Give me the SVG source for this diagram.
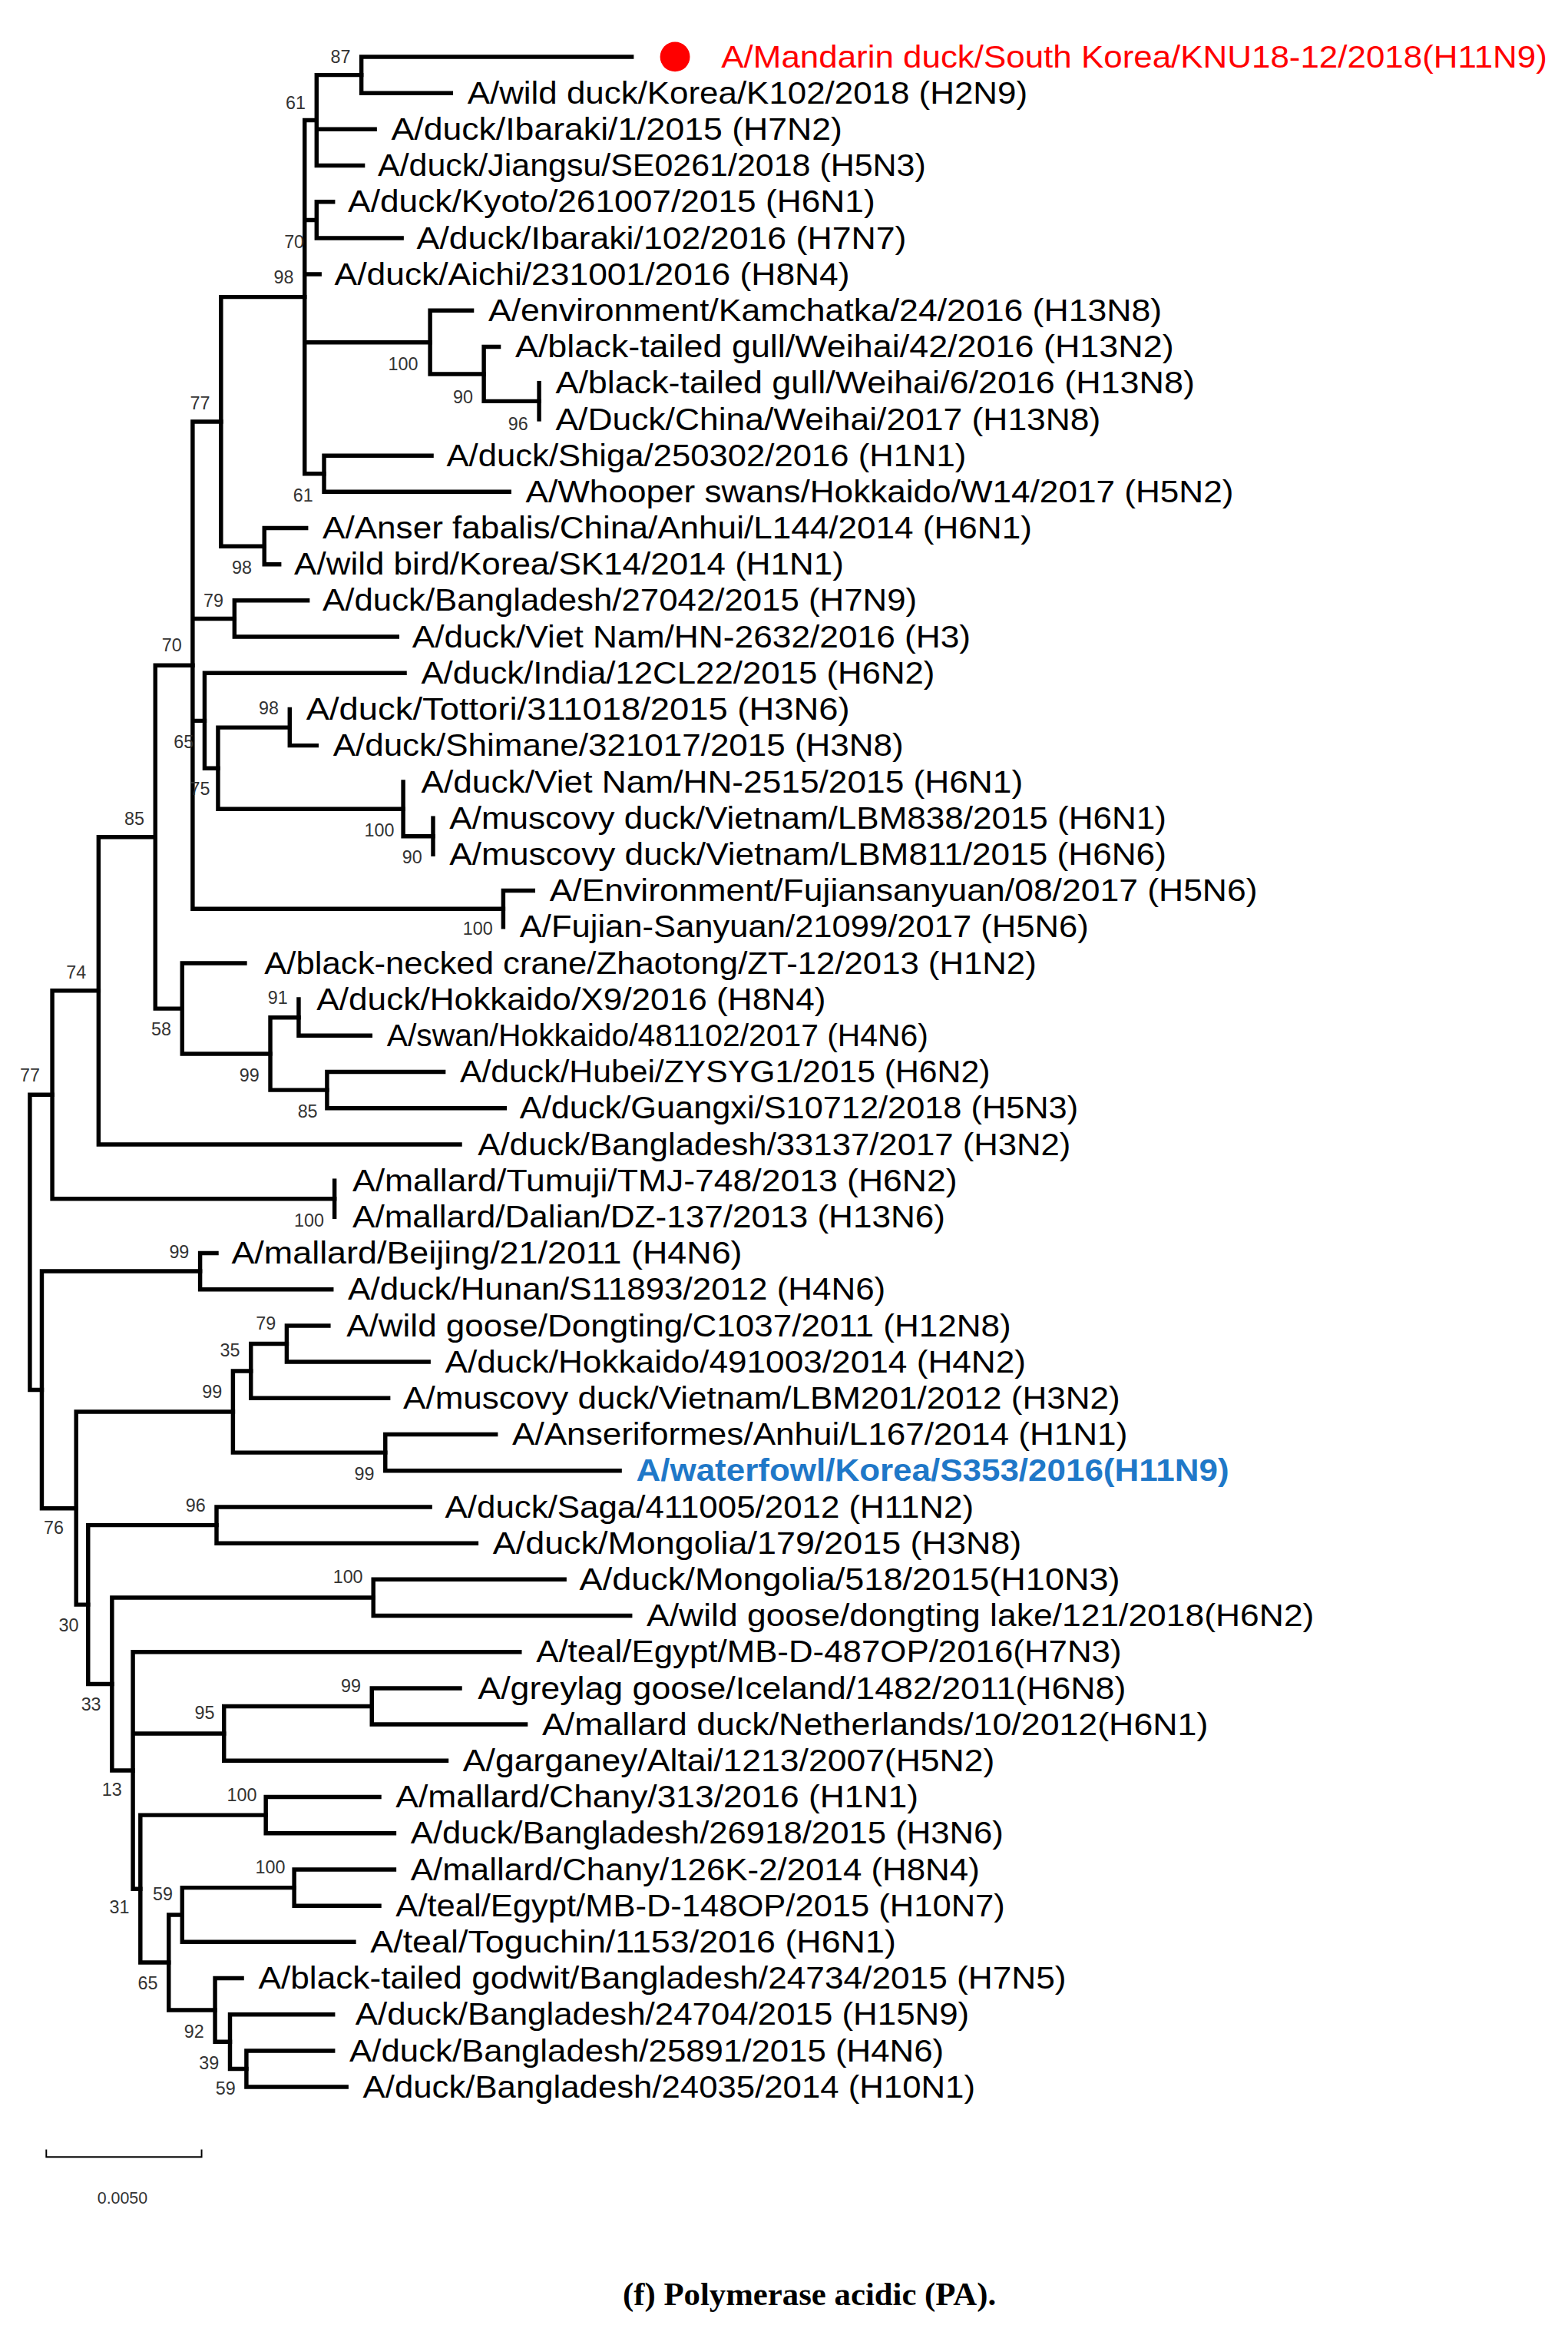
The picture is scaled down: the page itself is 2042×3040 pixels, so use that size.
<svg xmlns="http://www.w3.org/2000/svg" width="2042" height="3040" viewBox="0 0 2042 3040">
<style>
.e{fill:none;stroke:#000;stroke-width:2.8;stroke-linecap:square}
.t{font-family:"Liberation Sans",Arial,sans-serif;font-size:21px;fill:#000}
.b{font-family:"Liberation Sans",Arial,sans-serif;font-size:12px;fill:#333;text-anchor:middle}
</style>
<rect width="2042" height="3040" fill="#fff"/>
<g transform="scale(1.9448)">
<g id="connectors" class="e">
<path d="M242,38V62.3M242,38H423M242,62.3H302"/>
<path d="M212,50.2V110.8M212,50.2H242M212,86.5H251M212,110.8H243"/>
<path d="M212,135.1V159.4M212,135.1H223M212,159.4H269"/>
<path d="M361,256.4V280.7"/>
<path d="M324,232.2V268.6M324,232.2H334M324,268.6H361"/>
<path d="M288,207.9V250.4M288,207.9H316M288,250.4H324"/>
<path d="M217,305V329.2M217,305H289M217,329.2H341"/>
<path d="M204,80.5V317.1M204,80.5H212M204,147.3H212M204,183.6H214M204,229.2H288M204,317.1H217"/>
<path d="M177,353.5V377.8M177,353.5H205M177,377.8H187"/>
<path d="M148,198.8V365.7M148,198.8H204M148,365.7H177"/>
<path d="M157,402V426.3M157,402H206M157,426.3H266"/>
<path d="M194,474.9V499.1M194,499.1H212"/>
<path d="M290,547.7V571.9"/>
<path d="M270,523.4V559.8M270,559.8H290"/>
<path d="M146,487V541.6M146,487H194M146,541.6H270"/>
<path d="M137,450.6V514.3M137,450.6H271M137,514.3H146"/>
<path d="M337,596.2V620.5M337,596.2H357"/>
<path d="M129,282.3V608.4M129,282.3H148M129,414.2H157M129,482.5H137M129,608.4H337"/>
<path d="M200,669V693.3M200,693.3H248"/>
<path d="M219,717.6V741.8M219,717.6H297M219,741.8H338"/>
<path d="M181,681.2V729.7M181,681.2H200M181,729.7H219"/>
<path d="M122,644.8V705.5M122,644.8H164M122,705.5H181"/>
<path d="M104,445.4V675.2M104,445.4H129M104,675.2H122"/>
<path d="M66,560.3V766.1M66,560.3H104M66,766.1H308"/>
<path d="M224,790.4V814.6"/>
<path d="M35,663.2V802.5M35,663.2H66M35,802.5H224"/>
<path d="M134,838.9V863.2M134,838.9H145M134,863.2H222"/>
<path d="M192,887.5V911.7M192,887.5H220M192,911.7H287"/>
<path d="M168,899.6V936M168,899.6H192M168,936H260"/>
<path d="M258,960.3V984.5M258,960.3H332M258,984.5H415"/>
<path d="M156,917.8V972.4M156,917.8H168M156,972.4H258"/>
<path d="M145,1008.8V1033.1M145,1008.8H288M145,1033.1H319"/>
<path d="M250,1057.3V1081.6M250,1057.3H378M250,1081.6H422"/>
<path d="M249,1130.2V1154.4M249,1130.2H308M249,1154.4H352"/>
<path d="M150,1142.3V1178.7M150,1142.3H249M150,1178.7H299"/>
<path d="M178,1203V1227.2M178,1203H254M178,1227.2H264"/>
<path d="M197,1251.5V1275.8M197,1251.5H264M197,1275.8H254"/>
<path d="M122,1263.7V1300M122,1263.7H197M122,1300H237"/>
<path d="M165,1372.9V1397.1M165,1372.9H223M165,1397.1H232"/>
<path d="M154,1348.6V1385M154,1348.6H223M154,1385H165"/>
<path d="M144,1324.3V1366.8M144,1324.3H162M144,1366.8H154"/>
<path d="M113,1281.9V1345.6M113,1281.9H122M113,1345.6H144"/>
<path d="M94,1215.1V1313.8M94,1215.1H178M94,1313.8H113"/>
<path d="M89,1105.9V1264.5M89,1105.9H348M89,1160.5H150M89,1264.5H94"/>
<path d="M75,1069.5V1185.2M75,1069.5H250M75,1185.2H89"/>
<path d="M59,1021V1127.4M59,1021H145M59,1127.4H75"/>
<path d="M51,945.1V1074.2M51,945.1H156M51,1074.2H59"/>
<path d="M28,851V1009.7M28,851H134M28,1009.7H51"/>
<path d="M20,732.9V930.4M20,732.9H35M20,930.4H28"/>
</g>
<g id="bootstrap">
<text class="b" x="228" y="42">87</text><text class="b" x="198" y="73">61</text><text class="b" x="197" y="166">70</text><text class="b" x="190" y="190">98</text>
<text class="b" x="270" y="248">100</text><text class="b" x="310" y="270">90</text><text class="b" x="347" y="288">96</text><text class="b" x="203" y="336">61</text>
<text class="b" x="134" y="274">77</text><text class="b" x="162" y="384">98</text><text class="b" x="143" y="406">79</text><text class="b" x="115" y="436">70</text>
<text class="b" x="180" y="478">98</text><text class="b" x="123" y="501">65</text><text class="b" x="134" y="532">75</text><text class="b" x="254" y="560">100</text>
<text class="b" x="276" y="578">90</text><text class="b" x="320" y="626">100</text><text class="b" x="90" y="552">85</text><text class="b" x="186" y="672">91</text>
<text class="b" x="108" y="693">58</text><text class="b" x="167" y="724">99</text><text class="b" x="206" y="748">85</text><text class="b" x="51" y="655">74</text>
<text class="b" x="20" y="724">77</text><text class="b" x="207" y="821">100</text>
<text class="b" x="120" y="842">99</text><text class="b" x="178" y="890">79</text><text class="b" x="154" y="908">35</text><text class="b" x="142" y="936">99</text>
<text class="b" x="244" y="991">99</text><text class="b" x="36" y="1027">76</text><text class="b" x="131" y="1012">96</text><text class="b" x="233" y="1060">100</text>
<text class="b" x="46" y="1092">30</text><text class="b" x="61" y="1145">33</text><text class="b" x="235" y="1133">99</text><text class="b" x="137" y="1151">95</text>
<text class="b" x="75" y="1202">13</text><text class="b" x="162" y="1206">100</text><text class="b" x="181" y="1254">100</text><text class="b" x="109" y="1272">59</text>
<text class="b" x="80" y="1281">31</text><text class="b" x="99" y="1332">65</text><text class="b" x="130" y="1364">92</text><text class="b" x="140" y="1385">39</text>
<text class="b" x="151" y="1402">59</text>
</g>
<g id="leaf0"><circle cx="452" cy="38" r="10" fill="#ff0000"/><text class="t" x="483" y="45" textLength="553" lengthAdjust="spacingAndGlyphs" style="fill:#ff0000">A/Mandarin duck/South Korea/KNU18-12/2018(H11N9)</text></g>
<g id="leaf1"><text class="t" x="313" y="69.3" textLength="375" lengthAdjust="spacingAndGlyphs">A/wild duck/Korea/K102/2018 (H2N9)</text></g>
<g id="leaf2"><text class="t" x="262" y="93.5" textLength="302" lengthAdjust="spacingAndGlyphs">A/duck/Ibaraki/1/2015 (H7N2)</text></g>
<g id="leaf3"><text class="t" x="253" y="117.8" textLength="367" lengthAdjust="spacingAndGlyphs">A/duck/Jiangsu/SE0261/2018 (H5N3)</text></g>
<g id="leaf4"><text class="t" x="233" y="142.1" textLength="353" lengthAdjust="spacingAndGlyphs">A/duck/Kyoto/261007/2015 (H6N1)</text></g>
<g id="leaf5"><text class="t" x="279" y="166.4" textLength="328" lengthAdjust="spacingAndGlyphs">A/duck/Ibaraki/102/2016 (H7N7)</text></g>
<g id="leaf6"><text class="t" x="224" y="190.6" textLength="345" lengthAdjust="spacingAndGlyphs">A/duck/Aichi/231001/2016 (H8N4)</text></g>
<g id="leaf7"><text class="t" x="327" y="214.9" textLength="451" lengthAdjust="spacingAndGlyphs">A/environment/Kamchatka/24/2016 (H13N8)</text></g>
<g id="leaf8"><text class="t" x="345" y="239.2" textLength="441" lengthAdjust="spacingAndGlyphs">A/black-tailed gull/Weihai/42/2016 (H13N2)</text></g>
<g id="leaf9"><text class="t" x="372" y="263.4" textLength="428" lengthAdjust="spacingAndGlyphs">A/black-tailed gull/Weihai/6/2016 (H13N8)</text></g>
<g id="leaf10"><text class="t" x="372" y="287.7" textLength="365" lengthAdjust="spacingAndGlyphs">A/Duck/China/Weihai/2017 (H13N8)</text></g>
<g id="leaf11"><text class="t" x="299" y="312" textLength="348" lengthAdjust="spacingAndGlyphs">A/duck/Shiga/250302/2016 (H1N1)</text></g>
<g id="leaf12"><text class="t" x="352" y="336.2" textLength="474" lengthAdjust="spacingAndGlyphs">A/Whooper swans/Hokkaido/W14/2017 (H5N2)</text></g>
<g id="leaf13"><text class="t" x="216" y="360.5" textLength="475" lengthAdjust="spacingAndGlyphs">A/Anser fabalis/China/Anhui/L144/2014 (H6N1)</text></g>
<g id="leaf14"><text class="t" x="197" y="384.8" textLength="368" lengthAdjust="spacingAndGlyphs">A/wild bird/Korea/SK14/2014 (H1N1)</text></g>
<g id="leaf15"><text class="t" x="216" y="409" textLength="398" lengthAdjust="spacingAndGlyphs">A/duck/Bangladesh/27042/2015 (H7N9)</text></g>
<g id="leaf16"><text class="t" x="276" y="433.3" textLength="374" lengthAdjust="spacingAndGlyphs">A/duck/Viet Nam/HN-2632/2016 (H3)</text></g>
<g id="leaf17"><text class="t" x="282" y="457.6" textLength="344" lengthAdjust="spacingAndGlyphs">A/duck/India/12CL22/2015 (H6N2)</text></g>
<g id="leaf18"><text class="t" x="205" y="481.9" textLength="364" lengthAdjust="spacingAndGlyphs">A/duck/Tottori/311018/2015 (H3N6)</text></g>
<g id="leaf19"><text class="t" x="223" y="506.1" textLength="382" lengthAdjust="spacingAndGlyphs">A/duck/Shimane/321017/2015 (H3N8)</text></g>
<g id="leaf20"><text class="t" x="282" y="530.4" textLength="403" lengthAdjust="spacingAndGlyphs">A/duck/Viet Nam/HN-2515/2015 (H6N1)</text></g>
<g id="leaf21"><text class="t" x="301" y="554.7" textLength="480" lengthAdjust="spacingAndGlyphs">A/muscovy duck/Vietnam/LBM838/2015 (H6N1)</text></g>
<g id="leaf22"><text class="t" x="301" y="578.9" textLength="480" lengthAdjust="spacingAndGlyphs">A/muscovy duck/Vietnam/LBM811/2015 (H6N6)</text></g>
<g id="leaf23"><text class="t" x="368" y="603.2" textLength="474" lengthAdjust="spacingAndGlyphs">A/Environment/Fujiansanyuan/08/2017 (H5N6)</text></g>
<g id="leaf24"><text class="t" x="348" y="627.5" textLength="381" lengthAdjust="spacingAndGlyphs">A/Fujian-Sanyuan/21099/2017 (H5N6)</text></g>
<g id="leaf25"><text class="t" x="177" y="651.8" textLength="517" lengthAdjust="spacingAndGlyphs">A/black-necked crane/Zhaotong/ZT-12/2013 (H1N2)</text></g>
<g id="leaf26"><text class="t" x="212" y="676" textLength="341" lengthAdjust="spacingAndGlyphs">A/duck/Hokkaido/X9/2016 (H8N4)</text></g>
<g id="leaf27"><text class="t" x="259" y="700.3">A/swan/Hokkaido/481102/2017 (H4N6)</text></g>
<g id="leaf28"><text class="t" x="308" y="724.6" textLength="355" lengthAdjust="spacingAndGlyphs">A/duck/Hubei/ZYSYG1/2015 (H6N2)</text></g>
<g id="leaf29"><text class="t" x="348" y="748.8" textLength="374" lengthAdjust="spacingAndGlyphs">A/duck/Guangxi/S10712/2018 (H5N3)</text></g>
<g id="leaf30"><text class="t" x="320" y="773.1" textLength="397" lengthAdjust="spacingAndGlyphs">A/duck/Bangladesh/33137/2017 (H3N2)</text></g>
<g id="leaf31"><text class="t" x="236" y="797.4" textLength="405" lengthAdjust="spacingAndGlyphs">A/mallard/Tumuji/TMJ-748/2013 (H6N2)</text></g>
<g id="leaf32"><text class="t" x="236" y="821.6" textLength="397" lengthAdjust="spacingAndGlyphs">A/mallard/Dalian/DZ-137/2013 (H13N6)</text></g>
<g id="leaf33"><text class="t" x="155" y="845.9" textLength="342" lengthAdjust="spacingAndGlyphs">A/mallard/Beijing/21/2011 (H4N6)</text></g>
<g id="leaf34"><text class="t" x="233" y="870.2" textLength="360" lengthAdjust="spacingAndGlyphs">A/duck/Hunan/S11893/2012 (H4N6)</text></g>
<g id="leaf35"><text class="t" x="232" y="894.5" textLength="445" lengthAdjust="spacingAndGlyphs">A/wild goose/Dongting/C1037/2011 (H12N8)</text></g>
<g id="leaf36"><text class="t" x="298" y="918.7" textLength="389" lengthAdjust="spacingAndGlyphs">A/duck/Hokkaido/491003/2014 (H4N2)</text></g>
<g id="leaf37"><text class="t" x="270" y="943" textLength="480" lengthAdjust="spacingAndGlyphs">A/muscovy duck/Vietnam/LBM201/2012 (H3N2)</text></g>
<g id="leaf38"><text class="t" x="343" y="967.3" textLength="412" lengthAdjust="spacingAndGlyphs">A/Anseriformes/Anhui/L167/2014 (H1N1)</text></g>
<g id="leaf39"><text class="t" x="426" y="991.5" textLength="397" lengthAdjust="spacingAndGlyphs" style="fill:#1f78c8;font-weight:bold">A/waterfowl/Korea/S353/2016(H11N9)</text></g>
<g id="leaf40"><text class="t" x="298" y="1015.8" textLength="354" lengthAdjust="spacingAndGlyphs">A/duck/Saga/411005/2012 (H11N2)</text></g>
<g id="leaf41"><text class="t" x="330" y="1040.1" textLength="354" lengthAdjust="spacingAndGlyphs">A/duck/Mongolia/179/2015 (H3N8)</text></g>
<g id="leaf42"><text class="t" x="388" y="1064.3" textLength="362" lengthAdjust="spacingAndGlyphs">A/duck/Mongolia/518/2015(H10N3)</text></g>
<g id="leaf43"><text class="t" x="433" y="1088.6" textLength="447" lengthAdjust="spacingAndGlyphs">A/wild goose/dongting lake/121/2018(H6N2)</text></g>
<g id="leaf44"><text class="t" x="359" y="1112.9" textLength="392" lengthAdjust="spacingAndGlyphs">A/teal/Egypt/MB-D-487OP/2016(H7N3)</text></g>
<g id="leaf45"><text class="t" x="320" y="1137.2" textLength="434" lengthAdjust="spacingAndGlyphs">A/greylag goose/Iceland/1482/2011(H6N8)</text></g>
<g id="leaf46"><text class="t" x="363" y="1161.4" textLength="446" lengthAdjust="spacingAndGlyphs">A/mallard duck/Netherlands/10/2012(H6N1)</text></g>
<g id="leaf47"><text class="t" x="310" y="1185.7" textLength="356" lengthAdjust="spacingAndGlyphs">A/garganey/Altai/1213/2007(H5N2)</text></g>
<g id="leaf48"><text class="t" x="265" y="1210" textLength="350" lengthAdjust="spacingAndGlyphs">A/mallard/Chany/313/2016 (H1N1)</text></g>
<g id="leaf49"><text class="t" x="275" y="1234.2" textLength="397" lengthAdjust="spacingAndGlyphs">A/duck/Bangladesh/26918/2015 (H3N6)</text></g>
<g id="leaf50"><text class="t" x="275" y="1258.5" textLength="381" lengthAdjust="spacingAndGlyphs">A/mallard/Chany/126K-2/2014 (H8N4)</text></g>
<g id="leaf51"><text class="t" x="265" y="1282.8" textLength="408" lengthAdjust="spacingAndGlyphs">A/teal/Egypt/MB-D-148OP/2015 (H10N7)</text></g>
<g id="leaf52"><text class="t" x="248" y="1307" textLength="352" lengthAdjust="spacingAndGlyphs">A/teal/Toguchin/1153/2016 (H6N1)</text></g>
<g id="leaf53"><text class="t" x="173" y="1331.3" textLength="541" lengthAdjust="spacingAndGlyphs">A/black-tailed godwit/Bangladesh/24734/2015 (H7N5)</text></g>
<g id="leaf54"><text class="t" x="238" y="1355.6" textLength="411" lengthAdjust="spacingAndGlyphs">A/duck/Bangladesh/24704/2015 (H15N9)</text></g>
<g id="leaf55"><text class="t" x="234" y="1379.9" textLength="398" lengthAdjust="spacingAndGlyphs">A/duck/Bangladesh/25891/2015 (H4N6)</text></g>
<g id="leaf56"><text class="t" x="243" y="1404.1" textLength="410" lengthAdjust="spacingAndGlyphs">A/duck/Bangladesh/24035/2014 (H10N1)</text></g>
<g id="scalebar"><path d="M31,1439V1444H135V1439" fill="none" stroke="#000" stroke-width="1"/><text class="b" x="82" y="1475" style="font-size:11px">0.0050</text></g>
<g id="caption"><text x="542" y="1543" text-anchor="middle" style="font-family:'Liberation Serif','Times New Roman',serif;font-size:22px;font-weight:bold">(f) Polymerase acidic (PA).</text></g>
</g>
</svg>
